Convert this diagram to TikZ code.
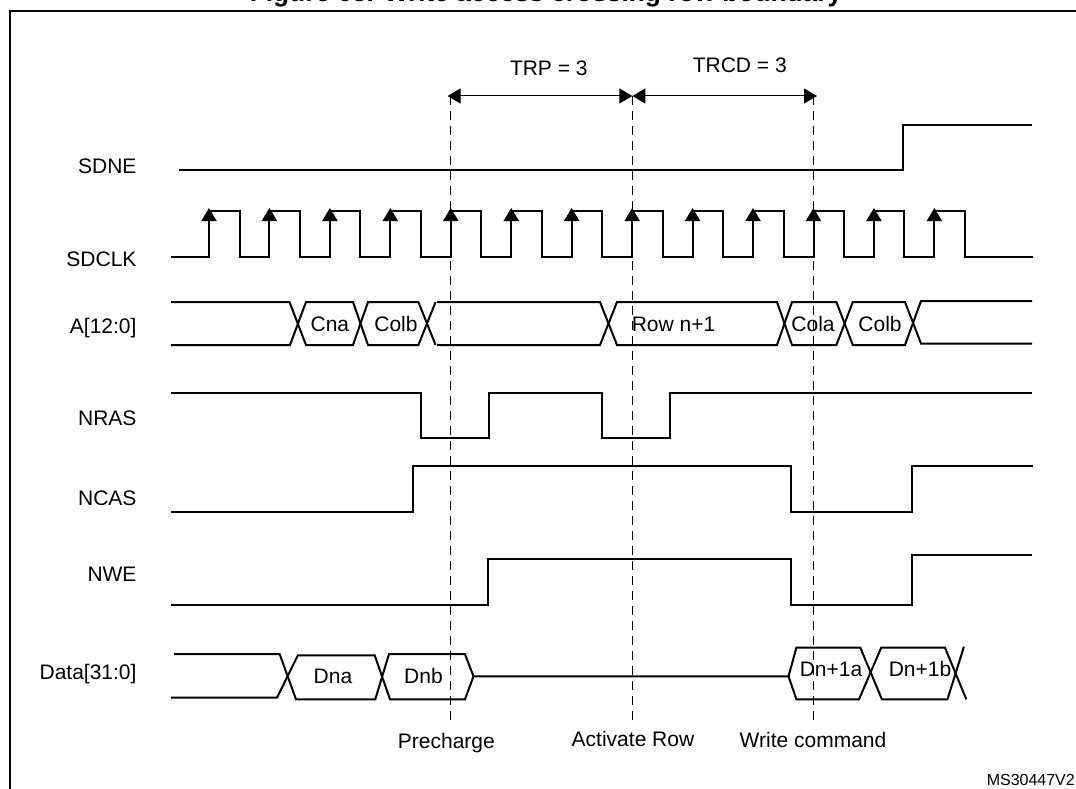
\documentclass[tikz,border=0pt]{standalone}
\usepackage{fontspec}
\setmainfont{Liberation Sans}
\usetikzlibrary{arrows.meta,positioning}

\begin{document}
\begin{tikzpicture}[
    x=1pt, y=-1pt,
    every node/.style={font=\fontsize{21}{24}\selectfont, inner sep=0pt},
    signame/.style={anchor=base east},
    buslabel/.style={anchor=base},
    eventlabel/.style={anchor=base},
    titlelabel/.style={anchor=base, font=\fontsize{26.3}{28}\selectfont\bfseries},
    reflabel/.style={anchor=base east, font=\fontsize{16}{18}\selectfont},
    frameline/.style={line width=2pt},
    wave/.style={line width=2pt},
    marker/.style={line width=1pt, dash pattern=on 9pt off 6pt},
    dimarrow/.style={{Triangle[length=13pt,width=15pt]}-{Triangle[length=13pt,width=15pt]}, line width=1pt},
    clkarrow/.style={-{Triangle[length=13pt,width=15pt]}, line width=2pt}
  ]

    \useasboundingbox (0,0) rectangle (1076,789);

    \node[titlelabel] (title) at (546,1.5) {Figure 65. Write access crossing row boundary};
    \draw[frameline] (10,789) |- (1076,11);

    % event markers
    \coordinate (pre) at (450.8,96);
    \coordinate (act) at (632.3,96);
    \coordinate (wrc) at (813.8,96);
    \coordinate (tl) at (447.6,96);
    \coordinate (tr) at (817,96);
    \draw[marker] (pre) -- (450.8,725);
    \draw[marker] (act) -- (632.3,725);
    \draw[marker] (wrc) -- (813.8,725);
    \draw[dimarrow] (tl) -- (act);
    \draw[dimarrow] (act) -- (tr);
    \node[eventlabel] (trp) at (548.8,76) {TRP = 3};
    \node[eventlabel] (trcd) at (739.8,72.7) {TRCD = 3};

    % signal names
    \node[signame] (sdne) at (136.7,173.3) {SDNE};
    \node[signame] (sdclk) at (136.7,266) {SDCLK};
    \node[signame] (addr) at (136.7,333) {A[12:0]};
    \node[signame] (nras) at (136.7,425) {NRAS};
    \node[signame] (ncas) at (136.7,505) {NCAS};
    \node[signame] (nwe) at (136.7,581) {NWE};
    \node[signame] (data) at (136.7,679.3) {Data[31:0]};

    % single lines
    \draw[wave] (179,170) -- (903.4,170) -- (903.4,125) -- (1032,125);
    \draw[wave] (171,393) -- (420.8,393) -- (420.8,438.3) -- (489,438.3) -- (489,393)
                -- (602.2,393) -- (602.2,438.3) -- (670.3,438.3) -- (670.3,393) -- (1032,393);
    \draw[wave] (171,511.7) -- (412.5,511.7) -- (412.5,466) -- (791.3,466)
                -- (791.3,511.7) -- (912,511.7) -- (912,466) -- (1033,466);
    \draw[wave] (171,604.7) -- (488.3,604.7) -- (488.3,559.3) -- (790.6,559.3)
                -- (790.6,604.7) -- (911.6,604.7) -- (911.6,555.3) -- (1032,555.3);

    % clock
    \draw[wave] (171,257) -- (209,257)
      \foreach \k in {0,...,12} {
        -- ({209+60.45*\k},257) -- ({209+60.45*\k},211)
        -- ({239.5+60.45*\k},211) -- ({239.5+60.45*\k},257)
      } -- (1033,257);
    \foreach \k in {0,...,12}
      \draw[clkarrow] ({209+60.45*\k},240) -- ({209+60.45*\k},208);

    % address bus
    \draw[wave] (171,302) -- (289.5,302) -- (306,345) -- (353,345) -- (368,302) -- (418.4,302) -- (435.6,345);
    \draw[wave] (171,345) -- (290,345) -- (306,302) -- (353,302) -- (368,345) -- (418.4,345) -- (435.6,302);
    \draw[wave] (437,302) -- (600,302) -- (617,345) -- (777,345) -- (792,302) -- (836.4,302)
                -- (852.8,345) -- (905,345) -- (921,301) -- (1032,301);
    \draw[wave] (437,345) -- (600,345) -- (617,302) -- (777,302) -- (792,345) -- (836.4,345)
                -- (852.8,302) -- (905,302) -- (921,343.5) -- (1032,343.5);
    \node[buslabel] (cna) at (329.9,331) {Cna};
    \node[buslabel] (colb) at (396,331) {Colb};
    \node[buslabel] (row) at (673.5,331) {Row n+1};
    \node[buslabel] (cola) at (813,331) {Cola};
    \node[buslabel] (colb2) at (880,331) {Colb};

    % data bus
    \draw[wave] (174,654) -- (279.6,654) -- (296,699.3) -- (375.3,699.3) -- (389,654) -- (464.9,654) -- (473.5,676.3)
                -- (788.5,676.3) -- (796.4,647.7) -- (860.3,647.7) -- (881.9,699.3) -- (947.5,699.3) -- (963.9,646.7);
    \draw[wave] (171,697.7) -- (277,697.7) -- (297.9,655.3) -- (374.7,655.3) -- (390,699.3) -- (465,699.3) -- (473.5,676.3);
    \draw[wave] (788.5,676.3) -- (796.4,699.3) -- (859,699.3) -- (881.2,647.7) -- (945,647.7) -- (966.3,699.3);
    \node[buslabel] (dna) at (333,683) {Dna};
    \node[buslabel] (dnb) at (423.5,683) {Dnb};
    \node[buslabel] (dn1a) at (831,676) {Dn+1a};
    \node[buslabel] (dn1b) at (920,676) {Dn+1b};

    \node[eventlabel] (precharge) at (446.4,748.3) {Precharge};
    \node[eventlabel] (activate) at (633,746) {Activate Row};
    \node[eventlabel] (write) at (813,747.7) {Write command};
    \node[reflabel] (ref) at (1075,785.7) {MS30447V2};

  \end{tikzpicture}
\end{document}
